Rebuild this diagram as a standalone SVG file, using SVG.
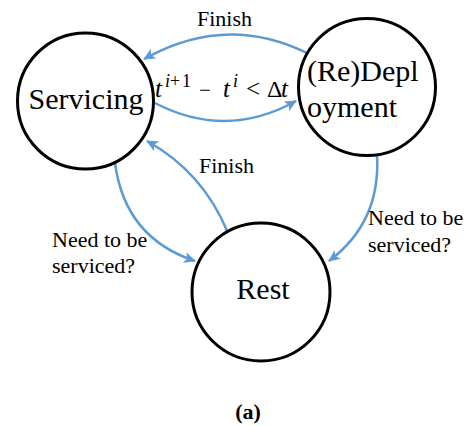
<svg xmlns="http://www.w3.org/2000/svg" width="470" height="426" viewBox="0 0 470 426">
<style>
.node circle{fill:#fff;stroke:#000;stroke-width:3}
.lbl{fill:#000}
.big{font-size:30px}
.mid{font-size:22px}
.edge{fill:none;stroke:#5B9BD5;stroke-width:2.5;marker-end:url(#arr)}
.math{fill:#000;font-size:25px}
.it{font-style:italic}
.sup{font-size:18px}
</style>
<defs>
<marker id="arr" markerUnits="userSpaceOnUse" markerWidth="14" markerHeight="12" viewBox="0 0 14 12" refX="12" refY="6" orient="auto">
<path d="M1,0.5 L13,6 L1,11.5 L4,6 z" fill="#5B9BD5"/>
</marker>
</defs>
<g id="connectors">
<path class="edge" d="M307,53 Q226,13 144,59"/>
<path class="edge" d="M155,103 Q226,140 296,101"/>
<path class="edge" d="M228,233 Q203,172 147,141"/>
<path class="edge" d="M115,163 Q125,238 195,261"/>
<path class="edge" d="M377,155 Q381,222 329,261"/>
</g>
<g font-family="'Liberation Serif', Tinos, 'Times New Roman', 'DejaVu Serif', serif">
<g id="servicing" class="node">
<circle cx="85.5" cy="101" r="68"/>
<text class="lbl big" x="86" y="109" text-anchor="middle">Servicing</text>
</g>
<g id="redeployment" class="node">
<circle cx="367" cy="87" r="68.5"/>
<text class="lbl big" x="307" y="81">(Re)Depl</text>
<text class="lbl big" x="307" y="117">oyment</text>
</g>
<g id="rest" class="node">
<circle cx="261" cy="292" r="69"/>
<text class="lbl big" x="263" y="299" text-anchor="middle">Rest</text>
</g>
<g id="labels">
<text class="lbl mid" x="197" y="26">Finish</text>
<text class="lbl mid" x="199" y="173">Finish</text>
<text class="lbl mid" x="52" y="247">Need to be</text>
<text class="lbl mid" x="52" y="273">serviced?</text>
<text class="lbl mid" x="368" y="225">Need to be</text>
<text class="lbl mid" x="368" y="252">serviced?</text>
<text class="math"><tspan class="it" x="155" y="97">t</tspan><tspan class="it sup" x="165" y="87">i</tspan><tspan class="sup" x="170" y="87">+</tspan><tspan class="sup" x="182" y="87">1</tspan><tspan x="199" y="97" font-size="21">−</tspan><tspan class="it" x="223" y="97">t</tspan><tspan class="it sup" x="233" y="87">i</tspan><tspan x="246" y="97">&lt;</tspan><tspan x="267" y="97" font-size="24">Δ</tspan><tspan class="it" x="281" y="97">t</tspan></text>
<text class="lbl" x="248" y="419" font-size="22" font-weight="bold" text-anchor="middle">(a)</text>
</g>
</g>
</svg>
